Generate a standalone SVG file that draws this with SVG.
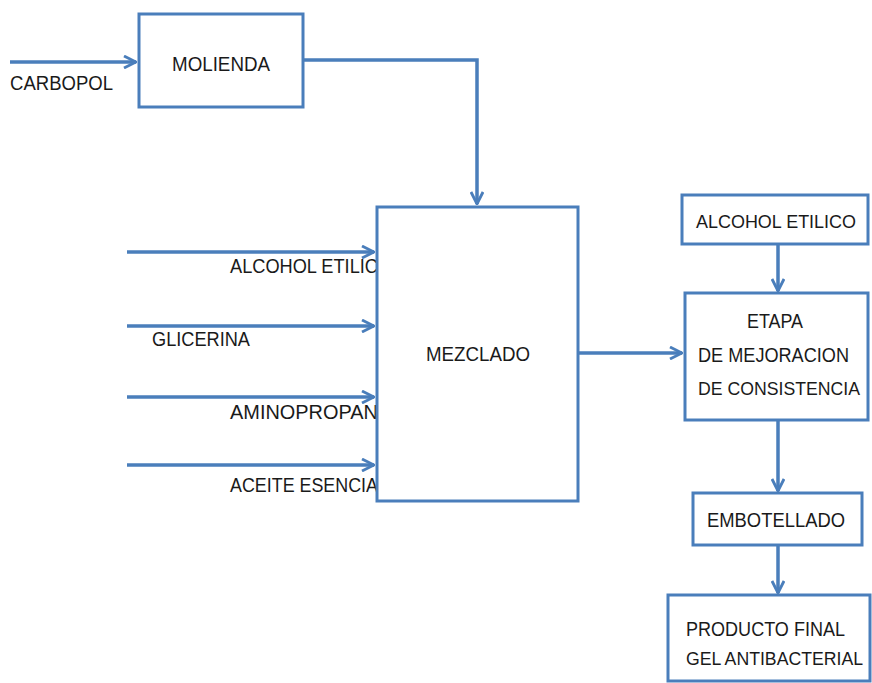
<svg xmlns="http://www.w3.org/2000/svg" width="872" height="683" viewBox="0 0 872 683">
<style>
.box{fill:#fff;stroke:#4a7ebb;stroke-width:3}
.ln{fill:none;stroke:#4a7ebb;stroke-width:3.5}
text{font-family:"Liberation Sans",Arial,sans-serif;font-size:20px;fill:#1a1a1a}
.r{font-size:18px}
</style>
<defs>
<marker id="ah" viewBox="0 0 14 14" refX="13" refY="7" markerWidth="14" markerHeight="14" markerUnits="userSpaceOnUse" orient="auto">
<path d="M1,1 L13,7 L1,13" fill="none" stroke="#4a7ebb" stroke-width="2.8"/>
</marker>
</defs>
<rect width="872" height="683" fill="#fff"/>
<g id="labels">
<text x="10" y="90" textLength="103" lengthAdjust="spacingAndGlyphs">CARBOPOL</text>
<text x="230" y="273" textLength="148" lengthAdjust="spacingAndGlyphs">ALCOHOL ETILIC</text>
<text x="152" y="346" textLength="98" lengthAdjust="spacingAndGlyphs">GLICERINA</text>
<text x="230" y="419" textLength="148" lengthAdjust="spacingAndGlyphs">AMINOPROPAN</text>
<text x="230" y="492" textLength="148" lengthAdjust="spacingAndGlyphs">ACEITE ESENCIA</text>
</g>
<g id="connectors">
<line class="ln" x1="10" y1="62" x2="136" y2="62" marker-end="url(#ah)"/>
<polyline class="ln" points="303,60 477,60 477,204" marker-end="url(#ah)"/>
<line class="ln" x1="127" y1="252" x2="374" y2="252" marker-end="url(#ah)"/>
<line class="ln" x1="127" y1="326" x2="374" y2="326" marker-end="url(#ah)"/>
<line class="ln" x1="127" y1="397" x2="374" y2="397" marker-end="url(#ah)"/>
<line class="ln" x1="127" y1="465" x2="374" y2="465" marker-end="url(#ah)"/>
<line class="ln" x1="578" y1="353" x2="682" y2="353" marker-end="url(#ah)"/>
<line class="ln" x1="778" y1="244" x2="778" y2="291" marker-end="url(#ah)"/>
<line class="ln" x1="778" y1="420" x2="778" y2="491" marker-end="url(#ah)"/>
<line class="ln" x1="778" y1="545" x2="778" y2="593" marker-end="url(#ah)"/>
</g>
<g id="molienda">
<rect class="box" x="139" y="14" width="164" height="93"/>
<text x="172" y="71" textLength="98" lengthAdjust="spacingAndGlyphs">MOLIENDA</text>
</g>
<g id="mezclado">
<rect class="box" x="377" y="207" width="201" height="294"/>
<text x="426" y="361" textLength="104" lengthAdjust="spacingAndGlyphs">MEZCLADO</text>
</g>
<g id="alcohol">
<rect class="box" x="682" y="195" width="186" height="49"/>
<text class="r" x="696" y="228" textLength="160" lengthAdjust="spacingAndGlyphs">ALCOHOL ETILICO</text>
</g>
<g id="etapa">
<rect class="box" x="685" y="293" width="183" height="127"/>
<text x="775" y="328" text-anchor="middle" textLength="56" lengthAdjust="spacingAndGlyphs">ETAPA</text>
<text x="698" y="362" textLength="151" lengthAdjust="spacingAndGlyphs">DE MEJORACION</text>
<text class="r" x="698" y="395" textLength="162" lengthAdjust="spacingAndGlyphs">DE CONSISTENCIA</text>
</g>
<g id="embotellado">
<rect class="box" x="693" y="493" width="169" height="52"/>
<text x="707" y="527" textLength="138" lengthAdjust="spacingAndGlyphs">EMBOTELLADO</text>
</g>
<g id="producto">
<rect class="box" x="668" y="595" width="202" height="86"/>
<text x="686" y="636" textLength="159" lengthAdjust="spacingAndGlyphs">PRODUCTO FINAL</text>
<text class="r" x="686" y="665" textLength="177" lengthAdjust="spacingAndGlyphs">GEL ANTIBACTERIAL</text>
</g>
</svg>
